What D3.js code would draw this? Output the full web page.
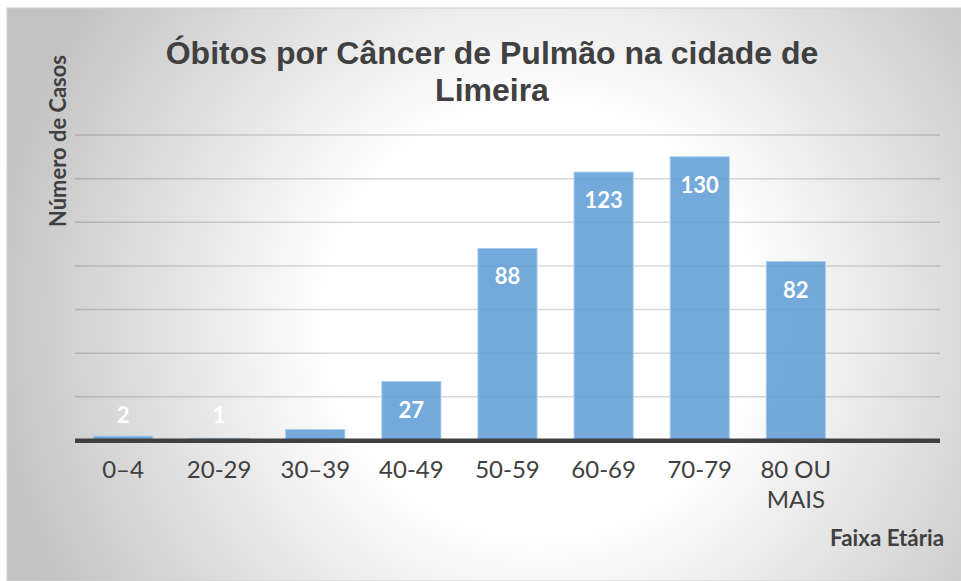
<!DOCTYPE html>
<html><head><meta charset="utf-8">
<script src="https://cdn.jsdelivr.net/npm/d3@7"></script>
<style>html,body{margin:0;padding:0;background:#fff;}svg{display:block;}</style>
</head><body>
<script>
const categories = ["0–4","20-29","30–39","40-49","50-59","60-69","70-79","80 OU MAIS",""];
const values = [2,1,5,27,88,123,130,82,null];
const labels = ["2","1","","27","88","123","130","82",""];
const yTicks = [0,20,40,60,80,100,120,140];
const titleLines = ["Óbitos por Câncer de Pulmão na cidade de","Limeira"];
const yTitle = "Número de Casos";
const xTitle = "Faixa Etária";

const W=961,H=581;
const svg=d3.select("body").append("svg").attr("width",W).attr("height",H);
const defs=svg.append("defs");
const g=defs.append("radialGradient").attr("id","bg").attr("gradientUnits","userSpaceOnUse")
  .attr("cx",540).attr("cy",320).attr("r",560);
g.append("stop").attr("offset","0").attr("stop-color","#ffffff");
g.append("stop").attr("offset","0.38").attr("stop-color","#ffffff");
g.append("stop").attr("offset","1").attr("stop-color","#c2c2c2");
svg.append("rect").attr("x",7).attr("y",8).attr("width",W-7).attr("height",H-8)
  .attr("fill","url(#bg)").attr("stroke","#d0d0d0").attr("stroke-width",1);

const x=d3.scaleBand().domain(categories.map((c,i)=>i)).range([75,940]).paddingInner(0.385).paddingOuter(0.1925);
const y=d3.scaleLinear().domain([0,140]).range([440.5,135]);

function fit(sel,target){
  const n=sel.node(); const fs=parseFloat(sel.attr("font-size"));
  const w=n.getComputedTextLength(); if(w>0) sel.attr("font-size",fs*target/w);
  return sel;
}

// gridlines
svg.append("g").selectAll("line").data(yTicks.filter(t=>t>0)).join("line")
  .attr("x1",75).attr("x2",940).attr("y1",d=>y(d)).attr("y2",d=>y(d))
  .attr("stroke","#000").attr("stroke-opacity",0.15).attr("stroke-width",1.5);

// bars
svg.append("g").selectAll("rect").data(values.map((v,i)=>({v,i})).filter(d=>d.v!=null)).join("rect")
  .attr("x",d=>x(d.i)).attr("width",x.bandwidth())
  .attr("y",d=>y(d.v)).attr("height",d=>y(0)-y(d.v))
  .attr("fill","#5b9bd5").attr("fill-opacity",0.85)
  .attr("stroke","#a9cbec").attr("stroke-width",1);

// axis line
const xAxis=d3.axisBottom(x).tickSize(0).tickFormat(()=> "");
const ax=svg.append("g").attr("transform",`translate(0,${y(0)+0.3})`).call(xAxis);
ax.select(".domain").attr("stroke","#404040").attr("stroke-width",4.6).attr("d","M75,0H940");

// tick labels
const tickFs = 24;
const tl=svg.append("g").attr("font-family","Lato, sans-serif").attr("fill","#404040");
categories.forEach((c,i)=>{
  if(!c) return;
  const words = c==="80 OU MAIS" ? ["80 OU","MAIS"] : [c];
  words.forEach((w,k)=>{
    tl.append("text").attr("font-size",tickFs).attr("x",x(i)+x.bandwidth()/2).attr("y",478+k*30).attr("text-anchor","middle").text(w);
  });
});

// data labels
const dl=svg.append("g").attr("font-family","Lato, sans-serif").attr("font-weight","bold").attr("fill","#fff");
values.forEach((v,i)=>{
  if(v==null||!labels[i]) return;
  const h=y(0)-y(v);
  const yy = h>30 ? y(v)+36 : y(0)-18;
  dl.append("text").attr("font-size",22).attr("x",x(i)+x.bandwidth()/2).attr("y",yy).attr("text-anchor","middle").text(labels[i]);
});

// titles
const t=svg.append("g").attr("font-family","'Liberation Sans', Arial, sans-serif").attr("font-weight","bold").attr("fill","#404040");
titleLines.forEach((l,k)=>t.append("text").attr("font-size",32).attr("x",492).attr("y",64+k*37).attr("text-anchor","middle").text(l));

fit(svg.append("text").attr("transform","translate(66,141) rotate(-90)").attr("text-anchor","middle")
  .attr("font-family","Lato, sans-serif").attr("font-weight","bold").attr("font-size",20).attr("fill","#404040").text(yTitle),172);
fit(svg.append("text").attr("x",944).attr("y",546).attr("text-anchor","end")
  .attr("font-family","Lato, sans-serif").attr("font-weight","bold").attr("font-size",22).attr("fill","#404040").text(xTitle),114);
</script>
</body></html>
